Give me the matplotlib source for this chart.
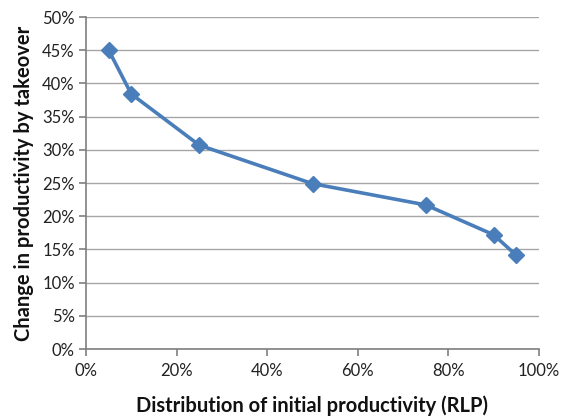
import matplotlib
matplotlib.use("Agg")
import matplotlib.pyplot as plt
from matplotlib.ticker import FuncFormatter

x_dist = [5, 10, 25, 50, 75, 90, 95]
y_change = [45.0, 38.4, 30.7, 24.9, 21.7, 17.2, 14.1]
x_ticks = [0, 20, 40, 60, 80, 100]
y_ticks = [0, 5, 10, 15, 20, 25, 30, 35, 40, 45, 50]

plt.rcParams['font.family'] = ['Lato', 'DejaVu Sans']

fig = plt.figure(figsize=(5.69, 4.16), dpi=100)
ax = fig.add_axes([86/569, 1-349/416, (539-86)/569, (349-17)/416])

ax.plot(x_dist, y_change, color='#4A7EBB', lw=2.6, marker='D', ms=8.5,
        markerfacecolor='#4A7EBB', markeredgecolor='#4A7EBB', zorder=3)

ax.set_xlim(0, 100)
ax.set_ylim(0, 50)
ax.set_xticks(x_ticks)
ax.set_yticks(y_ticks)
pct = FuncFormatter(lambda v, p: f"{int(round(v))}%")
ax.xaxis.set_major_formatter(pct)
ax.yaxis.set_major_formatter(pct)

ax.grid(axis='y', color='#A6A6A6', lw=1.0)
ax.set_axisbelow(True)
for s in ['top', 'right']:
    ax.spines[s].set_visible(False)
for s in ['left', 'bottom']:
    ax.spines[s].set_color('#7F7F7F')
    ax.spines[s].set_linewidth(1.2)
ax.tick_params(axis='both', direction='out', length=5, color='#7F7F7F',
               labelsize=12, labelcolor='#222222', width=1.2)
ax.tick_params(axis='y', pad=3)
ax.tick_params(axis='x', pad=5)

ax.set_xlabel('Distribution of initial productivity (RLP)', fontsize=14.5,
              fontweight='bold', labelpad=12, color='#111111')
ax.set_ylabel('Change in productivity by takeover', fontsize=14.5,
              fontweight='bold', labelpad=6, color='#111111')

fig.savefig('out.png', dpi=100)
